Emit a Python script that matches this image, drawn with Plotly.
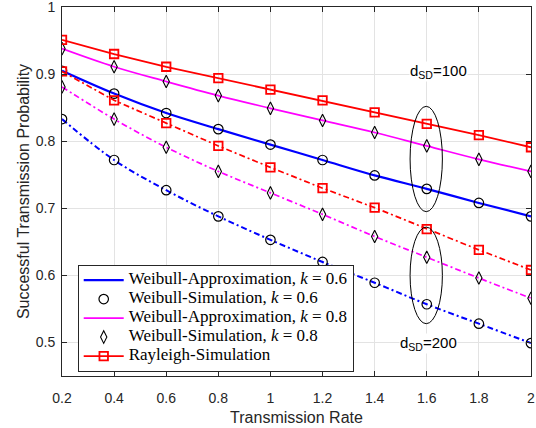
import plotly.graph_objects as go

rate = [0.2, 0.4, 0.6, 0.8, 1.0, 1.2, 1.4, 1.6, 1.8, 2.0]

# d_SD = 100
weib06_d100 = [0.905, 0.871, 0.842, 0.818, 0.795, 0.772, 0.749, 0.729, 0.708, 0.688]
weib08_d100 = [0.938, 0.911, 0.889, 0.868, 0.849, 0.831, 0.813, 0.793, 0.773, 0.755]
rayl_d100 = [0.951, 0.930, 0.911, 0.894, 0.877, 0.861, 0.843, 0.826, 0.809, 0.791]

# d_SD = 200
weib06_d200 = [0.833, 0.772, 0.727, 0.688, 0.653, 0.620, 0.589, 0.557, 0.528, 0.499]
weib08_d200 = [0.881, 0.833, 0.791, 0.755, 0.723, 0.691, 0.658, 0.627, 0.596, 0.566]
rayl_d200 = [0.904, 0.861, 0.827, 0.793, 0.761, 0.730, 0.701, 0.669, 0.638, 0.608]

x_ticks = [0.2, 0.4, 0.6, 0.8, 1.0, 1.2, 1.4, 1.6, 1.8, 2.0]
x_tick_text = ["0.2", "0.4", "0.6", "0.8", "1", "1.2", "1.4", "1.6", "1.8", "2"]
y_ticks = [0.5, 0.6, 0.7, 0.8, 0.9, 1.0]
y_tick_text = ["0.5", "0.6", "0.7", "0.8", "0.9", "1"]

legend_names = [
    "Weibull-Approximation, <i>k</i> = 0.6",
    "Weibull-Simulation, <i>k</i> = 0.6",
    "Weibull-Approximation, <i>k</i> = 0.8",
    "Weibull-Simulation, <i>k</i> = 0.8",
    "Rayleigh-Simulation",
]


def lg(t):
    return '<span style="font-size:17px">' + t + '</span>'


BLUE = "#0000ff"
MAG = "#ff00ff"
RED = "#ff0000"
DASHDOT = "6px,3px,2px,3px"

fig = go.Figure()

# Blue approximation lines
fig.add_trace(go.Scatter(x=rate, y=weib06_d100, mode="lines", line=dict(color=BLUE, width=2.2, shape="spline"),
                         name=lg(legend_names[0])))
fig.add_trace(go.Scatter(x=rate, y=weib06_d200, mode="lines", line=dict(color=BLUE, width=2, dash=DASHDOT, shape="spline"),
                         showlegend=False))
# circle markers
circ = dict(symbol="circle-open", size=9.5, color="black", line=dict(width=1.2))
fig.add_trace(go.Scatter(x=rate, y=weib06_d100, mode="markers", marker=circ, name=lg(legend_names[1])))
fig.add_trace(go.Scatter(x=rate, y=weib06_d200, mode="markers", marker=circ, showlegend=False))
# Magenta approximation lines
fig.add_trace(go.Scatter(x=rate, y=weib08_d100, mode="lines", line=dict(color=MAG, width=1.7, shape="spline"),
                         name=lg(legend_names[2])))
fig.add_trace(go.Scatter(x=rate, y=weib08_d200, mode="lines", line=dict(color=MAG, width=1.7, dash=DASHDOT, shape="spline"),
                         showlegend=False))
# diamond markers
diam = dict(symbol="diamond-tall-open", size=9, color="black", line=dict(width=1.1))
fig.add_trace(go.Scatter(x=rate, y=weib08_d100, mode="markers", marker=diam, name=lg(legend_names[3])))
fig.add_trace(go.Scatter(x=rate, y=weib08_d200, mode="markers", marker=diam, showlegend=False))
# Rayleigh
sq = dict(symbol="square-open", size=8.5, color=RED, line=dict(width=1.8))
fig.add_trace(go.Scatter(x=rate, y=rayl_d100, mode="lines+markers", line=dict(color=RED, width=1.8),
                         marker=sq, name=lg(legend_names[4])))
fig.add_trace(go.Scatter(x=rate, y=rayl_d200, mode="lines+markers", line=dict(color=RED, width=1.7, dash=DASHDOT),
                         marker=sq, showlegend=False))

# ellipses
fig.add_shape(type="circle", xref="x", yref="y", x0=1.536, x1=1.660, y0=0.695, y1=0.852,
              line=dict(color="black", width=1))
fig.add_shape(type="circle", xref="x", yref="y", x0=1.536, x1=1.660, y0=0.528, y1=0.672,
              line=dict(color="black", width=1))

fig.add_annotation(x=1.645, y=0.904, xref="x", yref="y", text="d<sub>SD</sub>=100", showarrow=False,
                   font=dict(family="Liberation Sans, Arial", size=15, color="black"), yanchor="middle",
                   bgcolor="white", borderpad=0)
fig.add_annotation(x=1.607, y=0.498, xref="x", yref="y", text="d<sub>SD</sub>=200", showarrow=False,
                   font=dict(family="Liberation Sans, Arial", size=15, color="black"), yanchor="middle",
                   bgcolor="white", borderpad=0)

axis_common = dict(showline=True, linecolor="#262626", linewidth=1, mirror="ticks", ticks="inside",
                   ticklen=5, tickcolor="#262626", showgrid=True, gridcolor="#e3e3e3", gridwidth=1,
                   zeroline=False, ticklabeloverflow="allow", automargin=False,
                   tickfont=dict(family="Liberation Sans, Arial", size=14, color="#262626"))

fig.update_layout(
    width=536, height=428,
    margin=dict(l=62, r=5, t=7, b=52),
    paper_bgcolor="white", plot_bgcolor="white",
    xaxis=dict(range=[0.2, 2.0001], tickvals=x_ticks, ticktext=x_tick_text, ticklabelstandoff=9,
               title=dict(text="Transmission Rate", font=dict(family="Liberation Sans, Arial", size=16, color="#262626"),
                          standoff=7),
               **axis_common),
    yaxis=dict(range=[0.45, 1.0001], tickvals=y_ticks, ticktext=y_tick_text, ticklabelstandoff=3,
               title=dict(text="Successful Transmission Probability",
                          font=dict(family="Liberation Sans, Arial", size=16, color="#262626"), standoff=2),
               **axis_common),
    legend=dict(x=0.0335, y=0.012, xanchor="left", yanchor="bottom",
                bgcolor="white", bordercolor="#262626", borderwidth=1,
                font=dict(family="Liberation Serif, Times New Roman", size=11, color="black"),
                tracegroupgap=0, itemwidth=40),
    showlegend=True,
)

fig.write_html("out.html")
